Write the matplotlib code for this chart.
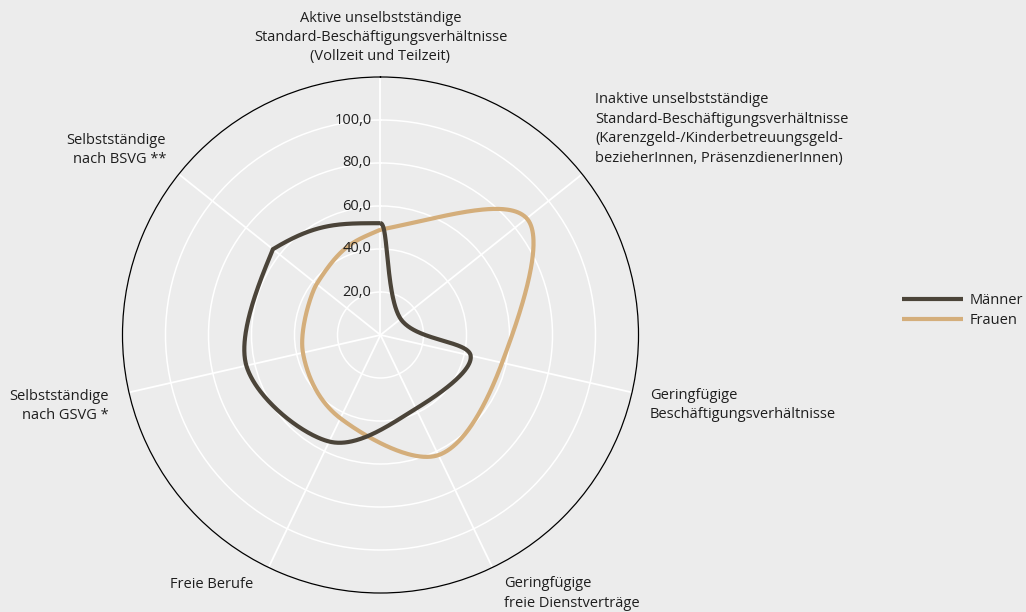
import numpy as np
import matplotlib
matplotlib.use("Agg")
import matplotlib.pyplot as plt
import matplotlib.transforms as mtransforms

plt.rcParams['font.family'] = ['Open Sans', 'DejaVu Sans']

# ---- data ----
categories = [
    "Aktive unselbstständige\nStandard-Beschäftigungsverhältnisse\n(Vollzeit und Teilzeit)",
    "Inaktive unselbstständige\nStandard-Beschäftigungsverhältnisse\n(Karenzgeld-/Kinderbetreuungsgeld-\nbezieherInnen, PräsenzdienerInnen)",
    "Geringfügige\nBeschäftigungsverhältnisse",
    "Geringfügige\nfreie Dienstverträge",
    "Freie Berufe",
    "Selbstständige\nnach GSVG *",
    "Selbstständige\nnach BSVG **",
]
maenner = [52, 12, 43, 38, 55, 64, 64]
frauen = [49, 87, 58, 62, 43, 37, 38]
series_names = ["Männer", "Frauen"]
radial_ticks = [20, 40, 60, 80, 100]
r_max = 120

# ---- style ----
W, H, DPI = 1026, 612, 100
BG = "#ececec"
C_M = "#4b4439"
C_F = "#d4ae7b"
TXT = "#1e1e1e"
FS = 10.5

fig = plt.figure(figsize=(W / DPI, H / DPI), dpi=DPI, facecolor=BG)
cx, cy, R = 380.5, 335.0, 258.0
ax = fig.add_axes([(cx - R) / W, (H - cy - R) / H, 2 * R / W, 2 * R / H],
                  projection='polar', facecolor=BG)
ax.set_theta_zero_location('N')
ax.set_theta_direction(-1)
ax.set_ylim(0, r_max)

n = len(categories)
angles = np.arange(n) * 2 * np.pi / n


def seam_controls(p, prev, nxt, sm=1.5):
    """Control points with vertical-extreme clamping (used at the closing seam)."""
    den = sm + 1
    lcx = (sm * p[0] + prev[0]) / den
    lcy = (sm * p[1] + prev[1]) / den
    rcx = (sm * p[0] + nxt[0]) / den
    rcy = (sm * p[1] + nxt[1]) / den
    if rcx != lcx:
        corr = ((rcy - lcy) * (rcx - p[0])) / (rcx - lcx) + p[1] - rcy
        lcy += corr
        rcy += corr
    if lcy > prev[1] and lcy > p[1]:
        lcy = max(prev[1], p[1]); rcy = 2 * p[1] - lcy
    elif lcy < prev[1] and lcy < p[1]:
        lcy = min(prev[1], p[1]); rcy = 2 * p[1] - lcy
    if rcy > nxt[1] and rcy > p[1]:
        rcy = max(nxt[1], p[1]); lcy = 2 * p[1] - rcy
    elif rcy < nxt[1] and rcy < p[1]:
        rcy = min(nxt[1], p[1]); lcy = 2 * p[1] - rcy
    return np.array([lcx, lcy]), np.array([rcx, rcy])


def smooth_path(values):
    v = np.asarray(values, float)
    P = np.column_stack([v * np.sin(angles), -v * np.cos(angles)])  # x right, y down
    L, Rc = [], []
    for i in range(n):
        prev, p, nxt = P[i - 1], P[i], P[(i + 1) % n]
        if i in (0, n - 1):
            lc, rc = seam_controls(p, prev, nxt)
        else:
            tng = (nxt - prev) / 6.0
            lc, rc = p - tng, p + tng
        L.append(lc)
        Rc.append(rc)
    t = np.linspace(0, 1, 80)[:, None]
    segs = []
    for i in range(n):
        j = (i + 1) % n
        p0, p1, p2, p3 = P[i], Rc[i], L[j], P[j]
        b = ((1 - t) ** 3) * p0 + 3 * ((1 - t) ** 2) * t * p1 + 3 * (1 - t) * t ** 2 * p2 + t ** 3 * p3
        segs.append(b)
    B = np.vstack(segs)
    bx, by = B[:, 0], -B[:, 1]
    th = np.unwrap(np.arctan2(bx, by))
    rr = np.hypot(bx, by)
    return th, rr


# grid
ax.set_xticks(angles)
ax.set_xticklabels([])
ax.set_yticks(radial_ticks + [r_max])
ax.set_yticklabels([])
ax.yaxis.grid(True, color='white', linewidth=1.1)
ax.xaxis.grid(True, color='white', linewidth=1.3)
ax.spines['polar'].set_color('black')
ax.spines['polar'].set_linewidth(0.9)
ax.tick_params(length=0)

lines = []
for vals, col, name, z in [(maenner, C_M, series_names[0], 5), (frauen, C_F, series_names[1], 4)]:
    th, rr = smooth_path(vals)
    ln, = ax.plot(th, rr, color=col, linewidth=3.0, label=name, zorder=z,
                  solid_joinstyle='miter', solid_capstyle='butt')
    lines.append(ln)

# radial tick labels
off = mtransforms.offset_copy(ax.transData, fig=fig, x=-9, y=0, units='dots')
for v in radial_ticks:
    ax.text(0, v, f"{v:.1f}".replace('.', ','), transform=off, ha='right', va='center',
            fontsize=FS, color=TXT, zorder=6)

# category labels (pixel anchors)
label_pos = [
    (380.5, 37.5, 'center', 'center'),
    (595, 129, 'left', 'left'),
    (650, 405, 'left', 'left'),
    (504, 593.5, 'left', 'left'),
    (253, 584, 'right', 'right'),
    (109, 406, 'right', 'right'),
    (166, 150, 'right', 'right'),
]
for txt, (x, y, ha, ma) in zip(categories, label_pos):
    fig.text(x / W, 1 - y / H, txt, ha=ha, va='center', multialignment=ma,
             fontsize=FS, color=TXT, linespacing=1.4)

fig.legend(handles=lines, labels=series_names, loc='center left',
           bbox_to_anchor=(902 / W, 1 - 310.5 / H), frameon=False, borderpad=0,
           borderaxespad=0, handlelength=4.2, handletextpad=0.45, labelspacing=0.32,
           fontsize=FS, labelcolor=TXT)

fig.savefig("out.png", dpi=DPI, facecolor=BG)
